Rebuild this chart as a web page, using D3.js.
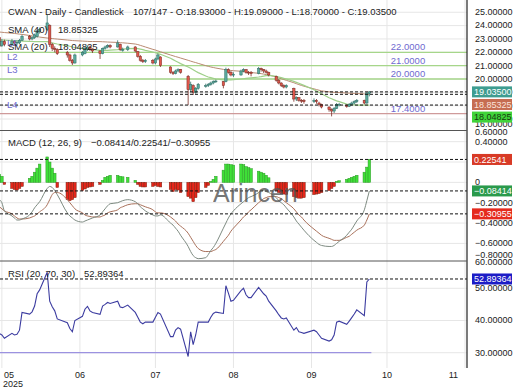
<!DOCTYPE html>
<html lang="en">
<head>
<meta charset="UTF-8">
<title>CWAN - Daily - Candlestick</title>
<script src="https://d3js.org/d3.v7.min.js"></script>
<style>
  body { margin: 0; background: #fff; }
  svg { display: block; font-family: "Liberation Sans", Arial, sans-serif; }
  .grid { stroke: #e6e6e6; stroke-width: 1; }
  .axis path, .axis line { display: none; }
  .axis text { font-size: 9px; fill: #222; }
  .dash { stroke: #111; stroke-width: 1; stroke-dasharray: 3,2; }
  .title { font-size: 9.5px; fill: #222; }
  .lvl { font-size: 9.5px; fill: #6f6ad0; }
</style>
</head>
<body>
<script>
// trading days shown on the chart
const holidays = ["2025-05-26", "2025-06-19", "2025-07-04", "2025-09-01"];
const fmtDay = d3.timeFormat("%Y-%m-%d");
const dates = d3.timeDay.range(new Date(2025, 3, 30), new Date(2025, 8, 25))
    .filter(d => d.getDay() % 6 !== 0 && !holidays.includes(fmtDay(d)));

const opens = [23.10,22.50,22.80,22.60,22.80,22.70,22.70,22.90,23.20,23.00,23.10,23.20,23.55,23.70,24.00,22.60,22.30,22.20,22.00,21.80,
    21.40,21.20,21.80,21.90,22.20,22.40,22.20,22.10,21.90,22.30,22.40,22.50,22.40,22.60,22.20,22.20,22.40,22.05,21.70,21.40,
    21.30,21.40,21.20,21.50,21.65,20.90,20.50,20.40,20.60,20.70,20.20,19.20,19.50,19.00,19.30,19.50,19.50,19.60,19.70,19.80,
    19.80,19.80,20.70,20.50,20.30,20.30,20.60,20.70,20.50,20.50,20.40,20.80,20.70,20.60,20.50,20.20,19.90,19.70,19.50,19.40,
    19.30,18.50,18.60,18.40,18.40,18.30,18.40,18.20,18.10,17.90,17.70,17.60,17.80,18.10,18.00,17.95,18.10,18.20,18.30,18.40,
    18.20,18.93];
const closes = [22.45,22.80,22.60,22.80,22.70,22.75,22.90,23.20,23.00,23.10,23.30,23.60,23.70,24.20,22.60,22.30,22.20,21.90,21.80,21.40,
    21.20,21.80,22.00,22.30,22.40,22.20,22.10,21.90,22.30,22.40,22.50,22.40,22.70,22.20,22.20,22.40,22.10,21.70,21.40,21.30,
    21.40,21.20,21.50,21.80,21.00,20.50,20.40,20.60,20.70,20.50,19.20,19.60,19.00,19.30,19.60,19.50,19.60,19.70,19.80,19.85,
    19.50,20.70,20.50,20.30,20.35,20.60,20.70,20.50,20.45,20.40,20.80,20.70,20.60,20.50,20.30,19.90,19.70,19.50,19.40,19.50,
    18.50,18.60,18.40,18.35,18.30,18.40,18.30,18.10,17.90,17.70,17.60,17.80,18.10,18.10,17.95,18.10,18.20,18.30,18.40,18.20,
    18.95,19.035];
const highs = [23.30,23.00,22.95,23.00,22.90,22.90,23.00,23.30,23.30,23.20,23.40,23.70,23.85,24.80,24.10,22.70,22.45,22.30,22.10,21.90,
    21.50,21.90,22.10,22.40,22.50,22.50,22.30,22.15,22.35,22.50,22.60,22.60,22.90,22.65,22.35,22.50,22.45,22.10,21.80,21.50,
    21.50,21.50,21.60,21.90,21.70,20.95,20.60,20.70,20.80,20.75,20.30,19.80,19.60,19.40,19.70,19.65,19.70,19.80,19.90,19.95,
    19.85,20.85,20.80,20.60,20.50,20.70,20.80,20.75,20.60,20.60,20.90,20.85,20.75,20.70,20.55,20.25,20.00,19.75,19.60,19.60,
    19.35,18.70,18.65,18.50,18.50,18.55,18.50,18.30,18.15,17.95,17.80,17.90,18.20,18.20,18.10,18.20,18.30,18.40,18.50,18.45,
    19.00,19.09];
const lows = [22.30,22.40,22.45,22.50,22.55,22.55,22.60,22.85,22.90,22.90,23.00,23.10,23.40,23.60,22.40,22.10,22.00,21.80,21.60,21.30,
    21.05,21.15,21.70,21.85,22.10,22.10,21.95,21.50,21.85,22.20,22.30,22.30,22.35,22.10,22.05,22.10,22.00,21.60,21.30,21.20,
    21.20,21.10,21.10,21.40,20.90,20.40,20.30,20.35,20.50,20.40,18.05,19.00,18.80,18.90,19.20,19.35,19.40,19.50,19.60,19.70,
    19.30,19.75,20.40,20.20,20.15,20.25,20.50,20.40,20.30,20.20,20.35,20.55,20.45,20.40,20.20,19.80,19.60,19.40,19.30,19.30,
    18.30,18.35,18.30,18.20,18.15,18.20,18.15,17.95,17.80,17.55,17.20,17.45,17.75,17.95,17.85,17.90,18.00,18.10,18.20,18.10,
    18.15,18.70];

const sma20 = [22.92,22.92,22.91,22.88,22.87,22.86,22.85,22.84,22.82,22.81,22.80,22.80,22.80,22.80,22.75,22.70,22.66,22.62,22.50,22.45,
    22.40,22.36,22.30,22.27,22.24,22.22,22.20,22.15,22.14,22.14,22.15,22.16,22.20,22.22,22.24,22.27,22.30,22.28,22.24,22.20,
    22.15,22.02,21.97,21.90,21.85,21.55,21.45,21.35,21.25,21.15,20.90,20.80,20.70,20.58,20.48,20.22,20.15,20.10,20.05,20.00,
    19.94,19.93,19.93,19.94,19.95,20.00,20.02,20.04,20.06,20.08,20.15,20.18,20.22,20.25,20.27,20.20,20.15,20.10,20.05,20.00,
    19.82,19.75,19.68,19.60,19.52,19.20,19.10,19.00,18.90,18.60,18.52,18.44,18.36,18.30,18.12,18.09,18.07,18.06,18.05,18.04,
    18.045,18.04825];
const sma40 = [23.52,23.50,23.48,23.43,23.41,23.39,23.36,23.34,23.26,23.23,23.20,23.17,23.14,23.07,23.05,23.03,23.01,22.99,22.92,22.90,
    22.88,22.87,22.84,22.83,22.82,22.81,22.81,22.80,22.79,22.78,22.77,22.76,22.74,22.72,22.71,22.68,22.62,22.58,22.52,22.46,
    22.40,22.22,22.17,22.10,22.04,21.80,21.74,21.68,21.63,21.57,21.40,21.34,21.28,21.23,21.17,21.00,20.95,20.90,20.86,20.82,
    20.72,20.68,20.66,20.64,20.62,20.58,20.56,20.53,20.50,20.48,20.43,20.40,20.37,20.33,20.30,20.15,20.08,20.02,19.96,19.90,
    19.72,19.65,19.58,19.52,19.46,19.26,19.21,19.16,19.11,19.04,19.02,19.00,18.99,18.98,18.95,18.94,18.93,18.92,18.91,18.88,
    18.86,18.85325];

const macd = [-0.17,-0.20,-0.28,-0.33,-0.35,-0.37,-0.37,-0.36,-0.32,-0.29,-0.25,-0.22,-0.19,-0.06,-0.04,-0.05,-0.08,-0.12,-0.30,-0.33,
    -0.35,-0.37,-0.39,-0.38,-0.37,-0.36,-0.35,-0.32,-0.29,-0.26,-0.23,-0.21,-0.20,-0.19,-0.18,-0.17,-0.19,-0.21,-0.24,-0.26,
    -0.28,-0.32,-0.33,-0.33,-0.32,-0.40,-0.42,-0.45,-0.48,-0.52,-0.63,-0.68,-0.72,-0.74,-0.75,-0.74,-0.71,-0.67,-0.64,-0.60,
    -0.45,-0.40,-0.35,-0.31,-0.28,-0.21,-0.19,-0.17,-0.15,-0.14,-0.10,-0.08,-0.08,-0.09,-0.10,-0.15,-0.18,-0.20,-0.22,-0.25,
    -0.34,-0.38,-0.41,-0.44,-0.47,-0.57,-0.59,-0.61,-0.62,-0.63,-0.63,-0.62,-0.60,-0.58,-0.52,-0.49,-0.46,-0.42,-0.38,-0.27,
    -0.18,-0.08414];
const signal = [-0.24,-0.26,-0.28,-0.31,-0.33,-0.35,-0.36,-0.36,-0.35,-0.34,-0.33,-0.31,-0.29,-0.22,-0.17,-0.12,-0.10,-0.10,-0.17,-0.20,
    -0.23,-0.26,-0.30,-0.32,-0.33,-0.335,-0.34,-0.34,-0.33,-0.32,-0.30,-0.29,-0.27,-0.25,-0.24,-0.22,-0.21,-0.21,-0.22,-0.23,
    -0.24,-0.27,-0.29,-0.30,-0.30,-0.34,-0.36,-0.38,-0.41,-0.43,-0.50,-0.54,-0.58,-0.62,-0.65,-0.68,-0.68,-0.68,-0.67,-0.66,
    -0.58,-0.55,-0.52,-0.48,-0.45,-0.37,-0.34,-0.32,-0.29,-0.27,-0.20,-0.18,-0.16,-0.15,-0.14,-0.14,-0.15,-0.16,-0.18,-0.20,
    -0.26,-0.29,-0.32,-0.34,-0.37,-0.46,-0.48,-0.50,-0.52,-0.55,-0.56,-0.57,-0.57,-0.57,-0.54,-0.53,-0.51,-0.49,-0.47,-0.42,
    -0.37,-0.30955];
const hist = [0.08,0.06,-0.02,-0.06,-0.07,-0.075,-0.06,-0.04,0.04,0.06,0.10,0.14,0.18,0.25,0.20,0.14,0.09,-0.05,-0.17,-0.18,
    -0.17,-0.15,-0.08,-0.065,-0.05,-0.045,-0.04,-0.02,0.02,0.05,0.06,0.07,0.07,0.06,0.055,0.05,0.02,-0.02,-0.04,-0.045,
    -0.045,-0.04,-0.03,-0.04,-0.045,-0.07,-0.09,-0.07,-0.075,-0.10,-0.14,-0.155,-0.19,-0.15,-0.10,-0.05,-0.03,0.01,0.03,0.06,
    0.12,0.18,0.18,0.175,0.17,0.18,0.175,0.155,0.145,0.135,0.11,0.10,0.09,0.07,0.045,-0.08,-0.10,-0.11,-0.115,-0.12,
    -0.14,-0.15,-0.155,-0.155,-0.15,-0.12,-0.115,-0.11,-0.10,-0.08,-0.06,-0.04,0.01,0.016,0.03,0.04,0.05,0.06,0.07,0.10,
    0.15,0.22541];

const rsi = [36,35.5,34.5,36,35.5,35.7,37,42.5,42,42.7,44.5,48.3,49.5,55,46,44.3,43,40.5,39.3,37.5,
    36.5,40,41.3,43.5,44.4,43,42.5,41.9,44.5,45,45.6,45.3,46,44.2,44,44.8,42.5,41,39.5,39,
    39.5,39.5,41,42.5,42,35,35,37,37.8,37.3,28.8,36.5,32.5,35.5,39.5,39.5,39.5,41,42.2,42.6,
    42.2,50.8,48.5,46,46.3,49.3,50,48,47.1,47.1,50.3,49.3,48.3,47.6,46,43,41.8,40.8,40.5,40.8,
    37,37.8,36.5,36.3,36,37,36.5,35.5,34.5,33.6,34,35.5,39.5,39.8,38.8,39.8,40.9,42,43.3,41.5,
    52,52.89364];

const levels = [22, 21, 20, 17.4];
const levelNames = ["L1", "L2", "L3", "L4"];
const priceTicks = [25, 24, 23, 22, 21, 20, 19, 18, 17, 16];
const macdTicks = [0.6, 0.4, 0.2, 0, -0.2, -0.4, -0.6, -0.8];
const rsiTicks = [60, 50, 40, 30];

const width = 520, height = 390, plotRight = 467;
const pTop = 0, pBot = 130.5, mTop = 130.5, mBot = 261, rTop = 261, rBot = 368;

const svg = d3.select("body").append("svg")
    .attr("width", width).attr("height", height);

//scales
const x = d3.scaleTime()
    .domain([new Date(2025, 3, 30, 6), new Date(2025, 10, 1, 19)])
    .range([0, plotRight]);
const yPrice = d3.scaleLinear().domain([16.142, 25.918]).range([pBot, pTop]);
const yMacd = d3.scaleLinear().domain([-0.773, 0.510]).range([mBot, mTop]);
const yRsi = d3.scaleLinear().domain([25.25, 58.48]).range([rBot, rTop]);

//clip paths
const defs = svg.append("defs");
[["clipP", pTop, pBot], ["clipM", mTop, mBot], ["clipR", rTop, rBot]].forEach(c => {
    defs.append("clipPath").attr("id", c[0]).append("rect")
        .attr("x", 0).attr("y", c[1]).attr("width", plotRight).attr("height", c[2] - c[1]);
});

//grid
const months = d3.timeMonth.range(new Date(2025, 4, 1), new Date(2025, 10, 2));
svg.append("g").selectAll("line").data(months).join("line")
    .attr("class", "grid")
    .attr("x1", d => x(d)).attr("x2", d => x(d))
    .attr("y1", 0).attr("y2", rBot);
function hGrid(ticks, scale, top, bottom) {
    svg.append("g").selectAll("line")
        .data(ticks.filter(t => scale(t) > top && scale(t) < bottom)).join("line")
        .attr("class", "grid")
        .attr("x1", 0).attr("x2", plotRight)
        .attr("y1", d => scale(d)).attr("y2", d => scale(d));
}
hGrid(priceTicks, yPrice, pTop, pBot);
hGrid(macdTicks, yMacd, mTop, mBot);
hGrid(rsiTicks, yRsi, rTop, rBot);

//price panel
const pricePanel = svg.append("g").attr("clip-path", "url(#clipP)");
pricePanel.selectAll(".level").data(levels).join("line")
    .attr("x1", 0).attr("x2", plotRight)
    .attr("y1", d => yPrice(d)).attr("y2", d => yPrice(d))
    .attr("stroke", d => d < 18 ? "#cf9a9a" : "#a6d68a")
    .attr("stroke-width", 1.3);

const lineP = data => d3.line().x((d, i) => x(dates[i])).y(d => yPrice(d))(data);
pricePanel.append("path").attr("d", lineP(sma40))
    .attr("fill", "none").attr("stroke", "#b98a72").attr("stroke-width", 1);
pricePanel.append("path").attr("d", lineP(sma20))
    .attr("fill", "none").attr("stroke", "#9fd08a").attr("stroke-width", 1.2);

const candles = pricePanel.selectAll(".candle").data(dates).join("g");
candles.append("line")
    .attr("x1", d => x(d)).attr("x2", d => x(d))
    .attr("y1", (d, i) => yPrice(highs[i])).attr("y2", (d, i) => yPrice(lows[i]))
    .attr("stroke", (d, i) => closes[i] >= opens[i] ? "#2f6f66" : "#7a2c25")
    .attr("stroke-width", 0.8);
candles.append("rect")
    .attr("x", d => x(d) - 1.2).attr("width", 2.4)
    .attr("y", (d, i) => yPrice(Math.max(opens[i], closes[i])))
    .attr("height", (d, i) => Math.max(0.8, Math.abs(yPrice(opens[i]) - yPrice(closes[i]))))
    .attr("fill", (d, i) => closes[i] >= opens[i] ? "#5aa99d" : "#e0574b")
    .attr("stroke", (d, i) => closes[i] >= opens[i] ? "#2f6f66" : "#7a2c25")
    .attr("stroke-width", 0.5);

//macd panel
const macdPanel = svg.append("g").attr("clip-path", "url(#clipM)");
macdPanel.selectAll("rect").data(hist).join("rect")
    .attr("x", (d, i) => x(dates[i]) - 1.3).attr("width", 2.6)
    .attr("y", d => d >= 0 ? yMacd(d) : yMacd(0))
    .attr("height", d => Math.abs(yMacd(d) - yMacd(0)))
    .attr("fill", d => d >= 0 ? "#3fe038" : "#e6261a")
    .attr("stroke", d => d >= 0 ? "#2f9a28" : "#7c2212")
    .attr("stroke-width", 0.5);
const lineM = data => d3.line().curve(d3.curveMonotoneX).x((d, i) => x(dates[i])).y(d => yMacd(d))(data);
macdPanel.append("path").attr("d", lineM(signal))
    .attr("fill", "none").attr("stroke", "#a8705a").attr("stroke-width", 1);
macdPanel.append("path").attr("d", lineM(macd))
    .attr("fill", "none").attr("stroke", "#7d8a80").attr("stroke-width", 1);

//rsi panel
const rsiPanel = svg.append("g").attr("clip-path", "url(#clipR)");
rsiPanel.append("line")
    .attr("x1", 0).attr("x2", x(dates[dates.length - 1]) + 2)
    .attr("y1", yRsi(30)).attr("y2", yRsi(30))
    .attr("stroke", "#9c92e0").attr("stroke-width", 1.2);
rsiPanel.append("path")
    .attr("d", d3.line().x((d, i) => x(dates[i])).y(d => yRsi(d))(rsi))
    .attr("fill", "none").attr("stroke", "#3c3ca0").attr("stroke-width", 1.1);

//dashed last-value lines
const last = dates.length - 1;
const dashes = [yPrice(closes[last]), yPrice(sma40[last]), yPrice(sma20[last]),
    yMacd(hist[last]), yMacd(macd[last]), yMacd(signal[last]), yRsi(rsi[last])];
svg.append("g").selectAll("line").data(dashes).join("line")
    .attr("class", "dash")
    .attr("x1", 0).attr("x2", plotRight)
    .attr("y1", d => d).attr("y2", d => d);

//level labels
svg.append("g").selectAll("text").data(levels).join("text")
    .attr("class", "lvl").attr("x", 7).attr("y", d => yPrice(d) - 6)
    .text((d, i) => levelNames[i]);
svg.append("g").selectAll("text").data(levels).join("text")
    .attr("class", "lvl").attr("x", 408).attr("y", d => yPrice(d) - 2)
    .attr("text-anchor", "middle").attr("fill", "#5d6bd2")
    .text(d => d.toFixed(4));

//watermark
svg.append("text").attr("x", 213).attr("y", 202)
    .attr("font-size", "25px").attr("fill", "#555").attr("opacity", 0.8)
    .text("Arincen");

//titles
const f5 = d3.format(".5f");
const titles = [
    [8, 15, "CWAN - Daily - Candlestick"],
    [133, 15, `107/147 - O:${f5(opens[last])} - H:${f5(highs[last])} - L:${f5(lows[last])} - C:${f5(closes[last])}`],
    [8, 33, "SMA (40)"], [58, 33, f5(sma40[last])],
    [8, 50, "SMA (20)"], [58, 50, f5(sma20[last])],
    [8, 146, "MACD (12, 26, 9)"], [91, 146, `${f5(macd[last])}/${f5(hist[last])}/${f5(signal[last])}`],
    [8, 277, "RSI (20, 70, 30)"], [84, 277, f5(rsi[last])]
];
svg.append("g").selectAll("text").data(titles).join("text")
    .attr("class", "title").attr("x", d => d[0]).attr("y", d => d[1]).text(d => d[2]);

//right axes
function rightAxis(scale, ticks, top, bottom, fmt) {
    const g = svg.append("g").attr("class", "axis")
        .attr("transform", `translate(475,0)`)
        .call(d3.axisRight(scale).tickValues(ticks).tickSize(0).tickPadding(0).tickFormat(fmt));
    g.selectAll(".tick").attr("transform", d =>
        `translate(0,${Math.max(top + 1.5, Math.min(bottom - 6, scale(d)))})`);
}
rightAxis(yPrice, priceTicks, pTop, pBot, f5);
rightAxis(yMacd, macdTicks, mTop, mBot, d => d === 0 ? "0" : f5(d));
rightAxis(yRsi, rsiTicks, rTop, rBot, f5);

//panel borders
svg.append("line").attr("x1", plotRight).attr("x2", plotRight).attr("y1", 0).attr("y2", rBot)
    .attr("stroke", "#222").attr("stroke-width", 1.2);
svg.append("g").selectAll("line").data([mTop, rTop]).join("line")
    .attr("x1", 0).attr("x2", plotRight).attr("y1", d => d).attr("y2", d => d)
    .attr("stroke", "#555").attr("stroke-width", 1);

//value tags on the right
function tags(list) {
    list.sort((a, b) => a.y - b.y);
    list.forEach((t, i) => { if (i > 0) t.y = Math.max(t.y, list[i - 1].y + 12.6); });
    const g = svg.append("g").selectAll("g").data(list).join("g");
    g.append("rect").attr("x", 472).attr("y", d => d.y - 5.5)
        .attr("width", 40).attr("height", 11).attr("fill", d => d.bg);
    g.append("text").attr("x", 474).attr("y", d => d.y + 3.2)
        .attr("font-size", "9px").attr("fill", d => d.fg).text(d => d.text);
}
tags([
    {y: yPrice(closes[last]), bg: "#3e9d90", fg: "#fff", text: f5(closes[last])},
    {y: yPrice(sma40[last]), bg: "#c66d52", fg: "#fbe3dc", text: f5(sma40[last])},
    {y: yPrice(sma20[last]), bg: "#40d43a", fg: "#153a10", text: f5(sma20[last])}
]);
tags([
    {y: yMacd(hist[last]), bg: "#d83a26", fg: "#fff", text: f5(hist[last])},
    {y: yMacd(macd[last]), bg: "#2a9a4c", fg: "#fff", text: f5(macd[last])},
    {y: yMacd(signal[last]), bg: "#e52a1e", fg: "#fff", text: f5(signal[last])}
]);
tags([{y: yRsi(rsi[last]), bg: "#1c1cc6", fg: "#fff", text: f5(rsi[last])}]);

//time axis labels
const monthLabels = svg.append("g").selectAll("text").data(months).join("text")
    .attr("font-size", "9px").attr("fill", "#222")
    .attr("y", 378).text(d3.timeFormat("%m"));
monthLabels.attr("x", function(d) {
    const w = this.getComputedTextLength();
    return Math.min(Math.max(x(d) - w / 2, 4), 458 - w);
});
svg.append("text").attr("x", 3).attr("y", 387)
    .attr("font-size", "9px").attr("fill", "#222").text("2025");
</script>
</body>
</html>
